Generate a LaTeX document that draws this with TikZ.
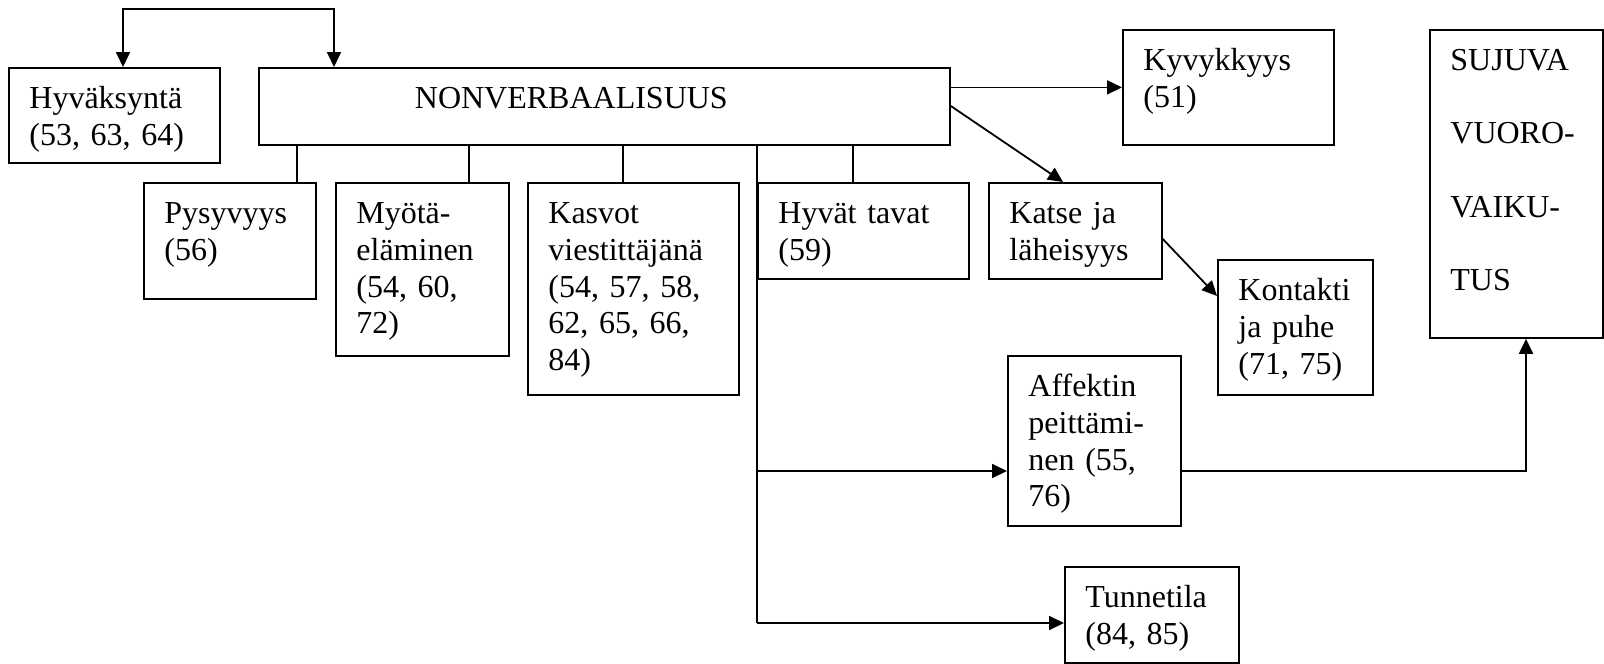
\documentclass[tikz,border=0pt]{standalone}
\usepackage{fontspec}
\setmainfont{Liberation Serif}
\usetikzlibrary{arrows.meta}
\begin{document}
\begin{tikzpicture}[x=1pt,y=-1pt,
  line width=1.8pt,
  box/.style 2 args={draw, line width=1.8pt, anchor=north west,
    inner xsep=20.5pt, inner ysep=0pt, align=left,
    text width=#1pt-41pt, text height=40.5pt, text depth=#2pt-40.5pt,
    font=\fontsize{32}{36.8}\selectfont},
  arr/.style={-{Triangle[length=15pt,width=14pt]}},
  arrboth/.style={{Triangle[length=15pt,width=14pt]}-{Triangle[length=15pt,width=14pt]}},
]
\useasboundingbox (0,0) rectangle (1604,664);

% boxes
\node[box={211}{95}] (hyv) at (8,67) {Hyväksyntä\\(53, 63, 64)};
\node[box={691}{77}, inner xsep=156pt, text width=379pt] (nonv) at (258,67) {NONVERBAALISUUS};
\node[box={172}{116}] (pys) at (143,182) {Pysyvyys\\(56)};
\node[box={173}{173}] (myo) at (335,182) {Myötä-\\eläminen\\(54, 60,\\72)};
\node[box={211}{212}] (kas) at (527,182) {Kasvot\\viestittäjänä\\(54, 57, 58,\\62, 65, 66,\\84)};
\node[box={211}{96}] (hyt) at (757,182) {Hyvät tavat\\(59)};
\node[box={173}{96}] (kat) at (988,182) {Katse ja\\läheisyys};
\node[box={211}{115}] (kyv) at (1122,29) {Kyvykkyys\\(51)};
\node[box={155}{135}] (kon) at (1217,259) {Kontakti\\ja puhe\\(71, 75)};
\node[box={173}{170}] (aff) at (1007,355) {Affektin\\peittämi-\\nen (55,\\76)};
\node[box={174}{96}] (tun) at (1064,566) {Tunnetila\\(84, 85)};
\node[box={173}{308}, font=\fontsize{32}{73.3}\selectfont] (suj) at (1429,29) {SUJUVA\\VUORO-\\VAIKU-\\TUS};

% loop between Hyväksyntä and NONVERBAALISUUS
\coordinate (bl) at (123,9);
\coordinate (br) at (334,9);
\draw[arrboth] (hyv.north -| bl) -- (bl) -- (br) -- (nonv.north -| br);

% drops to the sub-boxes
\draw (nonv.south -| 297,0) -- (pys.north -| 297,0);
\draw (nonv.south -| 469,0) -- (myo.north -| 469,0);
\draw (nonv.south -| 623,0) -- (kas.north -| 623,0);
\draw (nonv.south -| 853,0) -- (hyt.north -| 853,0);

% trunk with branches
\coordinate (t1) at (757,471);
\coordinate (t2) at (757,623);
\draw (nonv.south -| t2) -- (t2);
\draw[arr] (t1) -- (aff.west |- t1);
\draw[arr] (t2) -- (tun.west |- t2);

% arrows on the right
\draw[arr] (nonv.east |- kyv.west) -- (kyv.west);
\draw[arr] (nonv.east |- 0,106) -- (kat.north -| 1063,0);
\draw[arr] (kat.east |- 0,239) -- (kon.west |- 0,296);
\draw[arr] (aff.east |- t1) -| (suj.south -| 1526,0);
\end{tikzpicture}
\end{document}
